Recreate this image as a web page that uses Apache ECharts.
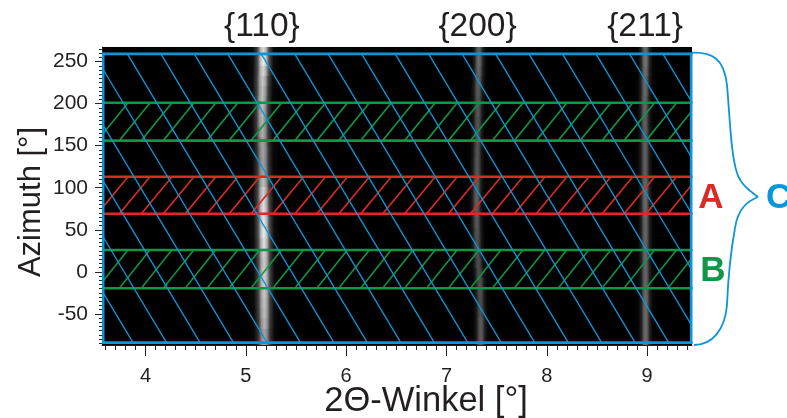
<!DOCTYPE html>
<html><head><meta charset="utf-8">
<style>html,body{margin:0;padding:0;background:#fff}#c{width:787px;height:418px}</style>
<script src="https://cdn.jsdelivr.net/npm/echarts@6/dist/echarts.min.js"></script>
</head><body><div id="c"></div>
<script>
var xTicks=[4,5,6,7,8,9];
var yTicks=[-50,0,50,100,150,200,250];
var peakNames=['{110}','{200}','{211}'];
var peakNameX=[5.16,7.31,8.98];
var rowAz=[268,256,244,232,220,208,196,184,172,160,148,136,124,112,100,88,76,64,52,40,28,16,4,-8,-20,-32,-44,-56,-68,-80];
var centre110=[5.174,5.174,5.172,5.168,5.166,5.164,5.164,5.164,5.166,5.168,5.170,5.171,5.172,5.174,5.174,5.176,5.176,5.178,5.180,5.181,5.181,5.182,5.182,5.182,5.183,5.183,5.184,5.184,5.184,5.185];
var level110=[0.86,0.92,0.84,0.78,0.74,0.74,0.72,0.7,0.68,0.64,0.64,0.62,0.64,0.74,0.82,0.86,0.88,0.9,0.92,0.88,0.82,0.8,0.82,0.82,0.78,0.76,0.74,0.7,0.64,0.66];
var centre200=[7.322,7.322,7.320,7.318,7.315,7.315,7.312,7.312,7.310,7.310,7.308,7.306,7.306,7.304,7.302,7.302,7.300,7.302,7.304,7.306,7.310,7.318,7.326,7.332,7.336,7.338,7.340,7.342,7.342,7.342];
var level200=[0.38,0.42,0.4,0.38,0.36,0.34,0.34,0.33,0.32,0.32,0.32,0.33,0.34,0.36,0.38,0.38,0.36,0.34,0.33,0.32,0.3,0.3,0.3,0.32,0.32,0.3,0.32,0.36,0.36,0.36];
var centre211=[8.983,8.983,8.982,8.980,8.980,8.978,8.978,8.978,8.980,8.980,8.980,8.980,8.980,8.982,8.982,8.982,8.982,8.983,8.983,8.983,8.983,8.984,8.984,8.984,8.985,8.985,8.985,8.985,8.985,8.985];
var level211=[0.42,0.46,0.44,0.42,0.42,0.4,0.4,0.38,0.38,0.38,0.38,0.38,0.38,0.4,0.42,0.42,0.42,0.4,0.4,0.4,0.4,0.4,0.4,0.4,0.42,0.42,0.42,0.42,0.42,0.44];
var hatchBottomX=[3.520,3.739,3.958,4.177,4.395,4.614,4.833,5.051,5.270,5.489,5.708,5.927,6.145,6.364,6.583,6.802,7.020,7.239,7.458,7.677,7.895,8.114,8.333,8.552,8.770,8.989,9.208,9.427];
var blueTopX=[2.150,2.484,2.818,3.151,3.485,3.819,4.153,4.486,4.820,5.154,5.487,5.821,6.155,6.489,6.822,7.156,7.490,7.823,8.157,8.491,8.825,9.158];
var blueRun=1.725;
var hatchRun=0.305;
var boxC={x0:3.578,x1:9.44,y0:-84.2,y1:259.1};
var bandUpper=[156,201];
var bandA=[69,113];
var bandLower=[-19.5,26];

var X0=3.566,X1=9.448,Y0=-87,Y1=267.3;
var font='"Liberation Sans",Arial,sans-serif';
var ink='#231f20',blue='#0a96d9',green='#0f9647',red='#dc2a26';

function range(a,b,s){var o=[];for(var i=a;i<=b+1e-9;i++)o.push(+(i*s).toFixed(2));return o}
function clipSeg(x1,y1,x2,y2){
  var a=boxC.x0,b=boxC.x1,t0=0,t1=1,d=x2-x1;
  if(x1<a)t0=(a-x1)/d; if(x2>b)t1=(b-x1)/d;
  if(t0>=t1)return null;
  return [x1+d*t0,y1+(y2-y1)*t0,x1+d*t1,y1+(y2-y1)*t1];
}
function hatch(band){
  var r=[];hatchBottomX.forEach(function(x){var s=clipSeg(x,band[0],x+hatchRun,band[1]);if(s)r.push(s)});
  [0,1].forEach(function(i){r.push([boxC.x0,band[i],boxC.x1,band[i]])});
  return r;
}
function blueLines(){
  var r=[];blueTopX.forEach(function(x){var s=clipSeg(x,boxC.y1,x+blueRun,boxC.y0);if(s)r.push(s)});
  return r;
}
function boxLines(){
  var b=boxC;return [[b.x0,b.y1,b.x1,b.y1],[b.x1,b.y1,b.x1,b.y0],[b.x1,b.y0,b.x0,b.y0],[b.x0,b.y0,b.x0,b.y1]];
}
function lineSeries(data,color,thin,thick,z){
  return {type:'custom',coordinateSystem:'cartesian2d',clip:false,z:z,silent:true,data:data,encode:{x:[0,2],y:[1,3]},
    renderItem:function(p,api){
      var a=api.coord([api.value(0),api.value(1)]),b=api.coord([api.value(2),api.value(3)]);
      var flat=api.value(1)===api.value(3)||api.value(0)===api.value(2);
      return {type:'line',shape:{x1:a[0],y1:a[1],x2:b[0],y2:b[1]},style:{stroke:color,lineWidth:flat?thick:thin,lineCap:'square'}};
    }};
}
function gray(v){var g=Math.round(255*Math.min(1,v));return 'rgb('+g+','+g+','+g+')'}
function streak(centres,levels,halfWidth){
  var rows=rowAz.map(function(a,i){return [centres[i],a,levels[i]]});
  return {type:'custom',coordinateSystem:'cartesian2d',clip:true,z:2,silent:true,data:rows,encode:{x:0,y:1},
    renderItem:function(p,api){
      var c=api.value(0),az=api.value(1),v=api.value(2);
      var a=api.coord([c-halfWidth,az]),b=api.coord([c+halfWidth,az-12]);
      var y=Math.floor(a[1]),h=Math.ceil(b[1])-y;
      var st=[[0,0],[0.2,0.05],[0.33,0.32],[0.42,0.82],[0.5,1],[0.58,0.82],[0.67,0.32],[0.8,0.05],[1,0]];
      return {type:'rect',shape:{x:a[0],y:y,width:b[0]-a[0],height:h},
        style:{fill:new echarts.graphic.LinearGradient(0,0,1,0,st.map(function(s){return {offset:s[0],color:gray(v*s[1])}}))}};
    }};
}
var labelSeries={type:'custom',coordinateSystem:'cartesian2d',clip:false,z:8,silent:true,
  data:peakNames.map(function(n,i){return [peakNameX[i],291]}),encode:{x:0,y:1},
  renderItem:function(p,api){
    var c=api.coord([api.value(0),api.value(1)]);
    return {type:'text',style:{text:peakNames[p.dataIndex],x:c[0],y:c[1],align:'center',verticalAlign:'middle',font:'33.5px '+font,fill:ink}};
  }};
function curve(x1,y1,cx1,cy1,cx2,cy2,x2,y2){
  return {type:'bezierCurve',z:9,shape:{x1:x1,y1:y1,cpx1:cx1,cpy1:cy1,cpx2:cx2,cpy2:cy2,x2:x2,y2:y2},style:{fill:null,stroke:blue,lineWidth:1.8}};
}

var chart=echarts.init(document.getElementById('c'),null,{renderer:'canvas'});
chart.setOption({
  animation:false,backgroundColor:'#fff',
  grid:{left:102,top:47,width:590,height:298,show:true,backgroundColor:'#000',borderWidth:0,outerBoundsMode:'none',containLabel:false},
  xAxis:[{type:'value',min:X0,max:X1,position:'bottom',splitLine:{show:false},
      axisLine:{show:true,onZero:false,lineStyle:{color:ink,width:1}},
      axisTick:{show:true,length:11,customValues:xTicks,lineStyle:{color:ink,width:1}},
      axisLabel:{show:true,customValues:xTicks,margin:21,fontFamily:'Liberation Sans',fontSize:20,color:ink},
      name:'2Θ-Winkel [°]',nameLocation:'middle',nameMoveOverlap:false,nameGap:39,nameTextStyle:{fontFamily:'Liberation Sans',fontSize:34.5,color:ink,padding:[0,0,0,58]}},
    {type:'value',min:X0,max:X1,position:'bottom',splitLine:{show:false},axisLine:{show:false,onZero:false},
      axisTick:{show:true,length:5,customValues:range(36,94,0.1),lineStyle:{color:ink,width:1}},
      axisLabel:{show:false}}],
  yAxis:[{type:'value',min:Y0,max:Y1,position:'left',splitLine:{show:false},
      axisLine:{show:true,onZero:false,lineStyle:{color:ink,width:1}},
      axisTick:{show:true,length:7,customValues:yTicks,lineStyle:{color:ink,width:1}},
      axisLabel:{show:true,customValues:yTicks,margin:14,fontFamily:'Liberation Sans',fontSize:21,color:ink},
      name:'Azimuth [°]',nameLocation:'middle',nameMoveOverlap:false,nameRotate:90,nameGap:55,nameTextStyle:{fontFamily:'Liberation Sans',fontSize:31,color:ink,padding:[0,12,0,0]}},
    {type:'value',min:Y0,max:Y1,position:'left',splitLine:{show:false},axisLine:{show:false,onZero:false},
      axisTick:{show:true,length:3,customValues:range(-17,53,5),lineStyle:{color:ink,width:1}},
      axisLabel:{show:false}}],
  graphic:[
    curve(692,52.7,712,52,724,58,727,85),
    curve(727,85,730,120,731,155,737,173),
    curve(737,173,741,185,750,191,758,197),
    curve(758,197,748,201,738,208,735,228),
    curve(735,228,731,250,728,280,727,305),
    curve(727,305,725,330,712,345,694,345),
    {type:'text',z:9,style:{text:'A',x:711,y:198,align:'center',verticalAlign:'middle',font:'bold 35px '+font,fill:red}},
    {type:'text',z:9,style:{text:'B',x:713,y:271,align:'center',verticalAlign:'middle',font:'bold 35px '+font,fill:green}},
    {type:'text',z:9,style:{text:'C',x:766,y:198,align:'left',verticalAlign:'middle',font:'bold 35px '+font,fill:blue}}
  ],
  series:[
    streak(centre110,level110,0.17),
    streak(centre200,level200,0.12),
    streak(centre211,level211,0.12),
    lineSeries(hatch(bandUpper),green,1.6,2.6,4),
    lineSeries(hatch(bandLower),green,1.6,2.6,4),
    lineSeries(hatch(bandA),red,1.6,2.6,4),
    lineSeries(blueLines(),blue,1.3,1.3,5),
    lineSeries(boxLines(),blue,2.6,2.6,6),
    labelSeries
  ]
});
</script></body></html>
